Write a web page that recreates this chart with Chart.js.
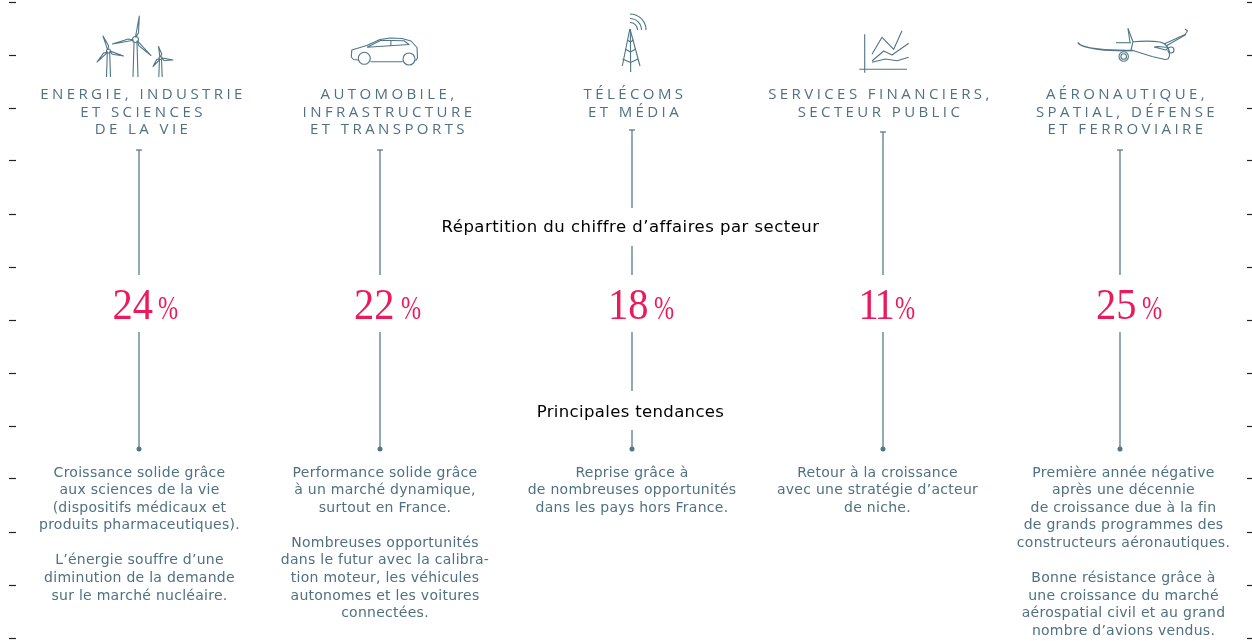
<!DOCTYPE html>
<html lang="fr">
<head>
<meta charset="utf-8">
<title>Répartition du chiffre d'affaires par secteur</title>
<script src="https://cdn.jsdelivr.net/npm/chart.js@4"></script>
<style>
  html, body { margin: 0; background: #fff; }
  canvas { display: block; }
</style>
</head>
<body>
<canvas id="grafico" width="1252" height="641"></canvas>
<script>
// data
const sectors = ['Energie', 'Automobile', 'Télécoms', 'Services financiers', 'Aéronautique'];
const shares = [24, 22, 18, 11, 25];
const headings = [
    ['ENERGIE, INDUSTRIE', 'ET SCIENCES', 'DE LA VIE'],
    ['AUTOMOBILE,', 'INFRASTRUCTURE', 'ET TRANSPORTS'],
    ['TÉLÉCOMS', 'ET MÉDIA'],
    ['SERVICES FINANCIERS,', 'SECTEUR PUBLIC'],
    ['AÉRONAUTIQUE,', 'SPATIAL, DÉFENSE', 'ET FERROVIAIRE']
];
const trends = [
    ['Croissance solide grâce', 'aux sciences de la vie', '(dispositifs médicaux et', 'produits pharmaceutiques).', '', 'L’énergie souffre d’une', 'diminution de la demande', 'sur le marché nucléaire.'],
    ['Performance solide grâce', 'à un marché dynamique,', 'surtout en France.', '', 'Nombreuses opportunités', 'dans le futur avec la calibra-', 'tion moteur, les véhicules', 'autonomes et les voitures', 'connectées.'],
    ['Reprise grâce à', 'de nombreuses opportunités', 'dans les pays hors France.'],
    ['Retour à la croissance', 'avec une stratégie d’acteur', 'de niche.'],
    ['Première année négative', 'après une décennie', 'de croissance due à la fin', 'de grands programmes des', 'constructeurs aéronautiques.', '', 'Bonne résistance grâce à', 'une croissance du marché', 'aérospatial civil et au grand', 'nombre d’avions vendus.']
];
const sectionTitles = ['Répartition du chiffre d’affaires par secteur', 'Principales tendances'];
const tickRows = [2, 55, 108, 161, 214, 267, 320, 373, 426, 479, 532, 585, 638];

// layout (page pixels, x and y scales below are 1:1 with the page)
const columnX = [139, 380, 632, 883, 1120];
const headingX = [143, 389, 635, 880.5, 1127];
const trendX = [139.5, 385, 632, 877.5, 1123.5];
const numberX = [112.5, 354, 608, 858.5, 1096];
const signX = [158, 401, 654, 895, 1142];
const stemPieces = [
    [[150, 275], [332, 449]],
    [[150, 275], [332, 449]],
    [[130, 208], [246, 275], [332, 391], [430, 449]],
    [[132, 275], [332, 449]],
    [[150, 275], [332, 449]]
];

const slate = '#587c8f';
const textBlue = '#4f7182';
const pink = '#ea1a5c';

function stemPoints(i) {
    const pts = [];
    stemPieces[i].forEach(p => {
        pts.push({ x: columnX[i], y: p[0] }, { x: columnX[i], y: p[1] }, { x: columnX[i], y: null });
    });
    return pts;
}

// icons
function stroke(c, pts) {
    c.beginPath();
    pts.forEach((p, i) => i ? c.lineTo(p[0], p[1]) : c.moveTo(p[0], p[1]));
    c.stroke();
}
function circle(c, x, y, r) {
    c.beginPath();
    c.arc(x, y, r, 0, Math.PI * 2);
    c.stroke();
}
function blade(c, hx, hy, tx, ty, w) {
    const dx = tx - hx, dy = ty - hy, len = Math.hypot(dx, dy);
    const nx = -dy / len * w, ny = dx / len * w;
    c.beginPath();
    c.moveTo(hx + dx * 0.1, hy + dy * 0.1);
    c.lineTo(hx + dx * 0.3 + nx, hy + dy * 0.3 + ny);
    c.lineTo(tx, ty);
    c.lineTo(hx + dx * 0.15 - nx * 0.2, hy + dy * 0.15 - ny * 0.2);
    c.closePath();
    c.stroke();
}
function mill(c, hx, hy, tips, half, r) {
    tips.forEach(t => blade(c, hx, hy, t[0], t[1], 1.9));
    circle(c, hx, hy, r);
    stroke(c, [[hx - half * 0.6, hy + r], [hx - half, 77]]);
    stroke(c, [[hx + half * 0.6, hy + r], [hx + half, 77]]);
}
function drawWind(c) {
    mill(c, 135.5, 39.5, [[139.3, 16], [112.5, 44], [151, 55.5]], 2.5, 3);
    mill(c, 108.5, 51, [[103, 36], [123.5, 56], [97, 62]], 2, 2);
    mill(c, 160.5, 58, [[158.5, 46.5], [173, 60], [153, 66.5]], 1.7, 1.5);
}
function drawCar(c) {
    stroke(c, [[358, 60], [353.5, 59.5], [351.3, 57], [351.8, 50], [366.7, 45.5], [380, 39.5], [390, 38], [402, 38.5], [411, 41], [417, 47.5], [417.5, 58], [415.5, 61]]);
    stroke(c, [[370.5, 61.7], [402.7, 61.7]]);
    stroke(c, [[367, 47.3], [409, 44.5], [404, 40.8], [381, 40.3], [367, 47.3]]);
    stroke(c, [[391, 40.5], [390.7, 46]]);
    circle(c, 364.3, 58.3, 6);
    circle(c, 409, 59, 6);
}
function drawTower(c) {
    stroke(c, [[629.8, 29], [622.3, 66]]);
    stroke(c, [[630, 29], [640, 66]]);
    stroke(c, [[630.3, 29], [630.7, 72]]);
    [[41, 1], [50, 2], [60, 2.5]].forEach(r => {
        const hw = (r[0] - 29) * 0.245;
        stroke(c, [[630.2 - hw, r[0] - 1], [630.5, r[0] + r[1]], [630.5 + hw, r[0] - 1]]);
    });
    [16, 11.5, 7.5].forEach(r => {
        c.beginPath();
        c.arc(630, 30, r, -Math.PI / 2, 0);
        c.stroke();
    });
}
function drawGraph(c) {
    stroke(c, [[864.7, 34.3], [864.7, 72.7]]);
    stroke(c, [[859.3, 69.3], [907, 69.3]]);
    stroke(c, [[872, 54.3], [882, 37.3], [893.7, 49.3], [902, 30.7]]);
    stroke(c, [[872, 61], [883.7, 51], [892, 55], [908.7, 43.3]]);
    stroke(c, [[872, 62.3], [885.3, 59], [897, 60.7], [908.7, 57.3]]);
}
function drawPlane(c) {
    c.lineWidth = 1.7;
    c.beginPath();
    c.moveTo(1078, 42.5);
    c.bezierCurveTo(1081, 49, 1110, 51, 1133, 50.5);
    c.stroke();
    c.lineWidth = 1.1;
    stroke(c, [[1133, 50.5], [1152, 56.5], [1165, 59.5], [1168, 59], [1169.5, 56]]);
    c.beginPath();
    c.moveTo(1133, 41.7);
    c.bezierCurveTo(1142, 41, 1150, 40.5, 1160, 42);
    c.bezierCurveTo(1166, 43.5, 1170, 47, 1169.5, 56);
    c.stroke();
    stroke(c, [[1128, 28.5], [1133, 41.7], [1131, 50]]);
    stroke(c, [[1128, 28.5], [1130, 42.5]]);
    stroke(c, [[1116, 42.7], [1131, 42.7]]);
    stroke(c, [[1164, 44], [1185, 34.5], [1187.5, 31], [1185, 29]]);
    stroke(c, [[1166, 46], [1186, 34.5]]);
    stroke(c, [[1154, 47], [1166, 50], [1168, 47.5], [1158, 46.5], [1154, 47]]);
    circle(c, 1171, 50, 3);
    circle(c, 1123.7, 56.5, 4.7);
    circle(c, 1123.7, 56.5, 2.8);
}

// condensed serif, the original face is narrower than Liberation Serif
function squeezed(c, text, x, y, font, sx, spacing) {
    c.save();
    c.translate(x, y);
    c.scale(sx, 1);
    c.font = font;
    c.letterSpacing = spacing;
    c.fillText(text, 0, 0);
    c.restore();
}

const textAndIcons = {
    id: 'textAndIcons',
    afterDatasetsDraw(chart) {
        const c = chart.ctx;
        const xs = chart.scales.x, ys = chart.scales.y;
        c.save();
        c.textBaseline = 'alphabetic';
        c.textAlign = 'center';

        c.strokeStyle = '#4f7588';
        c.lineWidth = 1.1;
        c.lineJoin = 'round';
        [drawWind, drawCar, drawTower, drawGraph, drawPlane].forEach(fn => fn(c));

        const rows = [99, 116.5, 134];
        c.fillStyle = textBlue;
        c.font = '15px "Open Sans"';
        c.letterSpacing = '3.42px';
        headings.forEach((lines, i) => lines.forEach((t, j) => {
            c.fillText(t, xs.getPixelForValue(headingX[i]), ys.getPixelForValue(rows[j]));
        }));

        c.font = '14px "DejaVu Sans"';
        c.letterSpacing = '0.27px';
        trends.forEach((lines, i) => lines.forEach((t, j) => {
            c.fillText(t, xs.getPixelForValue(trendX[i]), ys.getPixelForValue(476.7 + j * 17.55));
        }));

        c.fillStyle = '#000';
        c.font = '16.5px "DejaVu Sans"';
        c.letterSpacing = '0.47px';
        c.fillText(sectionTitles[0], xs.getPixelForValue(630.5), ys.getPixelForValue(232));
        c.letterSpacing = '0.35px';
        c.fillText(sectionTitles[1], xs.getPixelForValue(630.5), ys.getPixelForValue(417));

        c.textAlign = 'left';
        c.fillStyle = pink;
        shares.forEach((v, i) => {
            const y = ys.getPixelForValue(318.7);
            squeezed(c, String(v), xs.getPixelForValue(numberX[i]), y, '44px "Liberation Serif"', 0.92, v === 11 ? '-3px' : '0px');
            squeezed(c, '%', xs.getPixelForValue(signX[i]), y, '34px "Liberation Serif"', 0.71, '0px');
        });
        c.restore();
    }
};

const stemDatasets = sectors.map((s, i) => ({
    label: s,
    data: stemPoints(i),
    showLine: true,
    spanGaps: false,
    borderColor: slate,
    borderWidth: 1.3,
    pointRadius: 0
}));

new Chart(document.getElementById('grafico'), {
    type: 'scatter',
    data: {
        datasets: [
            ...stemDatasets,
            {
                label: 'cap',
                data: stemPieces.map((p, i) => ({ x: columnX[i], y: p[0][0] })),
                pointStyle: 'line',
                pointRadius: 3,
                pointBorderWidth: 1.3,
                pointBorderColor: slate
            },
            {
                label: 'dot',
                data: stemPieces.map((p, i) => ({ x: columnX[i], y: p[p.length - 1][1] })),
                pointRadius: 2.5,
                pointBorderWidth: 0,
                pointBackgroundColor: '#4f7588'
            }
        ]
    },
    options: {
        responsive: false,
        animation: false,
        layout: { autoPadding: false, padding: { left: 9, right: 0, top: 0, bottom: 0 } },
        plugins: { legend: { display: false }, tooltip: { enabled: false } },
        scales: {
            x: { type: 'linear', min: 16, max: 1247, display: false },
            y: {
                type: 'linear',
                position: 'left',
                reverse: true,
                min: 0,
                max: 641,
                afterBuildTicks: (axis) => { axis.ticks = tickRows.map(v => ({ value: v })); },
                border: { display: false },
                grid: { drawOnChartArea: false, tickLength: 7, tickColor: '#222', tickWidth: 1.2 },
                ticks: { display: false }
            },
            y2: {
                type: 'linear',
                position: 'right',
                reverse: true,
                min: 0,
                max: 641,
                afterBuildTicks: (axis) => { axis.ticks = tickRows.map(v => ({ value: v })); },
                border: { display: false },
                grid: { drawOnChartArea: false, tickLength: 5, tickColor: '#222', tickWidth: 1.2 },
                ticks: { display: false }
            }
        }
    },
    plugins: [textAndIcons]
});
</script>
</body>
</html>
